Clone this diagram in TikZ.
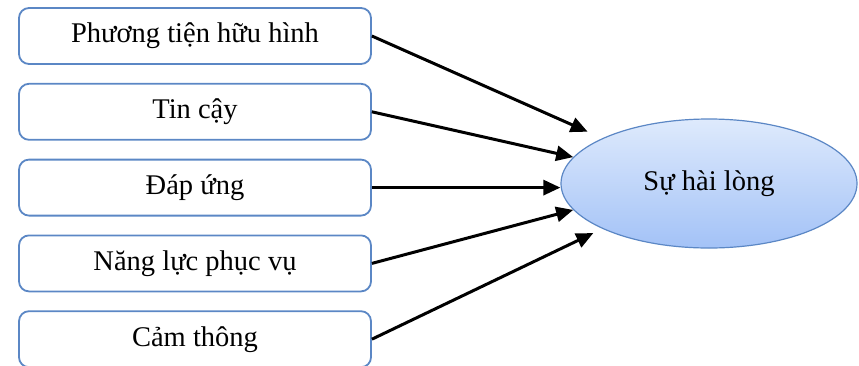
\documentclass[tikz,border=0pt]{standalone}
\usepackage{fontspec}
\setmainfont{Liberation Serif}
\usepackage{tikz}
\usetikzlibrary{positioning, shapes.geometric, arrows.meta}
\definecolor{boxblue}{HTML}{5B87C5}
\definecolor{ovaltop}{HTML}{DEEAFC}
\definecolor{ovalbottom}{HTML}{A3C2F7}
\tikzset{
	every node/.append style={
		font={\fontsize{28.5}{32}\selectfont},
	},
	factor/.append style={
		draw=boxblue,
		line width=1.8pt,
		rounded corners=10pt,
		align = center,
		minimum width=352pt,
		minimum height=56pt,
	},
	target/.append style={
		ellipse,
		draw=boxblue,
		line width=1.2pt,
		top color=ovaltop,
		bottom color=ovalbottom,
		minimum width=296pt,
		minimum height=129pt,
	},
	link/.append style={
		line width=3pt,
		-{Triangle[length=17pt, width=15pt]},
	},
}

\begin{document}
\begin{tikzpicture}[x=1pt, y=-1pt, node distance=18pt]
		\useasboundingbox (0,0) rectangle (859,365);
		\node(phuongtien)[factor] at (195,36){Phương tiện hữu hình};
		\node(tincay)[factor, below=of phuongtien]{Tin cậy};
		\node(dapung)[factor, below=of tincay]{Đáp ứng};
		\node(nangluc)[factor, below=of dapung]{Năng lực phục vụ};
		\node(camthong)[factor, below=of nangluc]{Cảm thông};
		
		\node(hailong)[target] at (709,183.5){Sự hài lòng};
		
		\draw[link, shorten >=16pt] (phuongtien.east) -- (hailong.157);
		\draw[link] (tincay.east) -- (hailong.169);
		\draw[link] (dapung.east) -- (dapung.east -| hailong.west);
		\draw[link] (nangluc.east) -- (hailong.191);
		\draw[link, shorten >=10pt] (camthong.east) -- (hailong.203);
\end{tikzpicture}
\end{document}
